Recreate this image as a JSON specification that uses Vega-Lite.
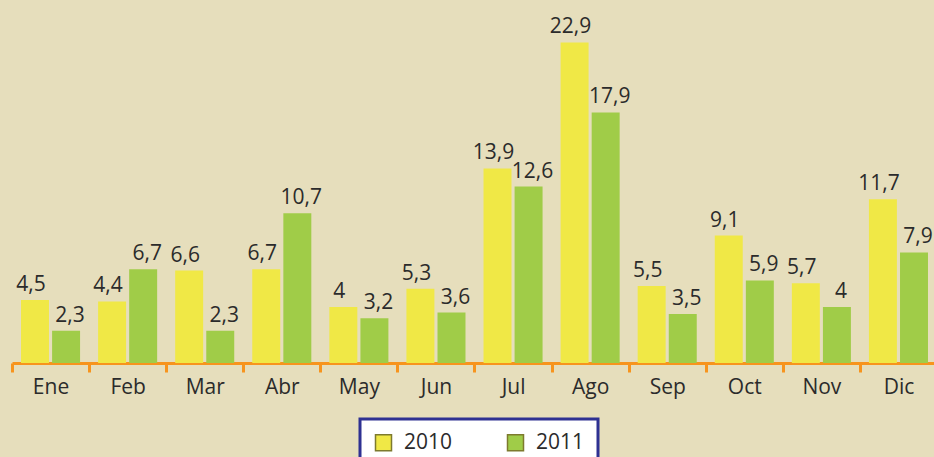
{
  "$schema": "https://vega.github.io/schema/vega-lite/v6.json",
  "width": 925,
  "height": 350,
  "padding": {"left": 10, "top": 13, "right": 0, "bottom": 0},
  "background": "#e6debc",
  "config": {
    "view": {"stroke": null},
    "font": "Open Sans"
  },
  "data": {
    "values": [
      {"mes": "Ene", "anio": "2010", "valor": 4.5}, {"mes": "Ene", "anio": "2011", "valor": 2.3},
      {"mes": "Feb", "anio": "2010", "valor": 4.4}, {"mes": "Feb", "anio": "2011", "valor": 6.7},
      {"mes": "Mar", "anio": "2010", "valor": 6.6}, {"mes": "Mar", "anio": "2011", "valor": 2.3},
      {"mes": "Abr", "anio": "2010", "valor": 6.7}, {"mes": "Abr", "anio": "2011", "valor": 10.7},
      {"mes": "May", "anio": "2010", "valor": 4}, {"mes": "May", "anio": "2011", "valor": 3.2},
      {"mes": "Jun", "anio": "2010", "valor": 5.3}, {"mes": "Jun", "anio": "2011", "valor": 3.6},
      {"mes": "Jul", "anio": "2010", "valor": 13.9}, {"mes": "Jul", "anio": "2011", "valor": 12.6},
      {"mes": "Ago", "anio": "2010", "valor": 22.9}, {"mes": "Ago", "anio": "2011", "valor": 17.9},
      {"mes": "Sep", "anio": "2010", "valor": 5.5}, {"mes": "Sep", "anio": "2011", "valor": 3.5},
      {"mes": "Oct", "anio": "2010", "valor": 9.1}, {"mes": "Oct", "anio": "2011", "valor": 5.9},
      {"mes": "Nov", "anio": "2010", "valor": 5.7}, {"mes": "Nov", "anio": "2011", "valor": 4},
      {"mes": "Dic", "anio": "2010", "valor": 11.7}, {"mes": "Dic", "anio": "2011", "valor": 7.9}
    ]
  },
  "transform": [
    {"calculate": "replace(format(datum.valor, '.1~f'), '.', ',')", "as": "etiqueta"}
  ],
  "encoding": {
    "x": {
      "field": "mes", "type": "nominal", "sort": null,
      "scale": {"paddingInner": 0, "paddingOuter": 0},
      "axis": {
        "title": null, "labelAngle": 0, "tickBand": "extent",
        "domainColor": "#f7941d", "domainWidth": 3,
        "tickColor": "#f7941d", "tickWidth": 3, "tickSize": 9,
        "labelFontSize": 21, "labelColor": "#2b2b2b", "labelPadding": 4, "labelFont": "Open Sans"
      }
    },
    "xOffset": {"field": "anio", "type": "nominal", "scale": {"paddingInner": 0.1, "paddingOuter": 0.29}},
    "y": {"field": "valor", "type": "quantitative", "scale": {"domain": [0, 25]}, "axis": null}
  },
  "layer": [
    {
      "mark": {"type": "bar"},
      "encoding": {
        "color": {
          "field": "anio", "type": "nominal",
          "scale": {"domain": ["2010", "2011"], "range": ["#f0e846", "#a0cc48"]},
          "legend": {
            "title": null, "orient": "none", "direction": "horizontal",
            "legendX": 348, "legendY": 406,
            "fillColor": "white", "strokeColor": "#2e3192",
            "padding": 13, "symbolType": "square", "symbolSize": 256,
            "symbolStrokeColor": "#7d7a2e", "symbolStrokeWidth": 1.5,
            "labelFontSize": 21, "labelColor": "#2b2b2b", "labelOffset": 10,
            "columnPadding": 51, "labelFont": "Open Sans",
            "encode": {"legend": {"update": {"strokeWidth": {"value": 3}}}}
          }
        }
      }
    },
    {
      "mark": {"type": "text", "baseline": "alphabetic", "dy": -9, "fontSize": 21, "color": "#2b2b2b",
               "dx": {"expr": "datum.anio == '2010' ? -4 : 4"}},
      "encoding": {
        "text": {"field": "etiqueta", "type": "nominal"}
      }
    }
  ]
}
